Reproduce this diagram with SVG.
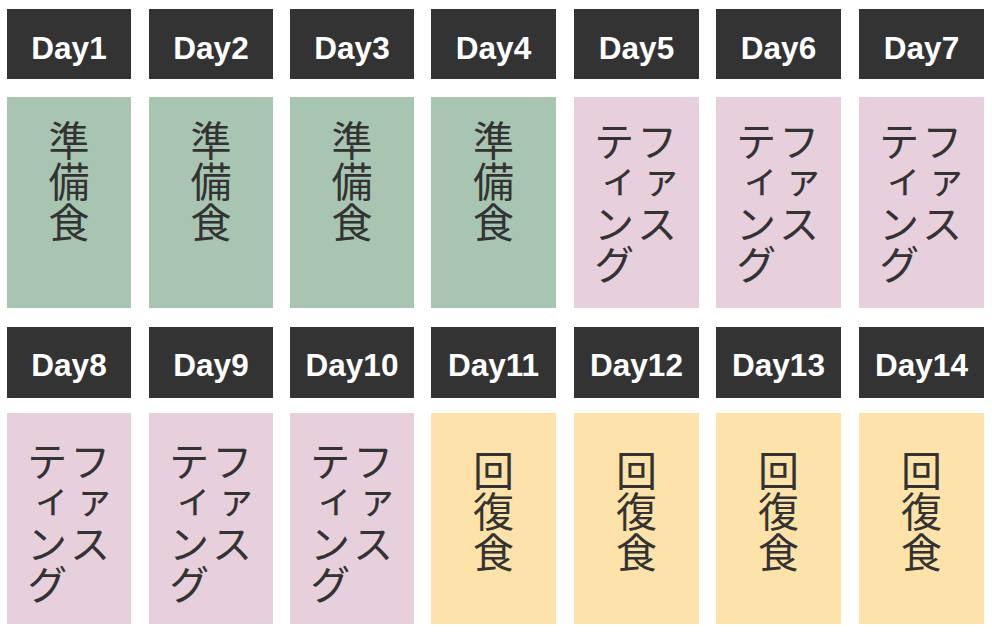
<svg xmlns="http://www.w3.org/2000/svg" width="992" height="632" viewBox="0 0 992 632">
<style>
.hd{fill:#333333}
.ht{font-family:"Liberation Sans",Arial,sans-serif;font-weight:bold;font-size:31.5px;fill:#ffffff;text-anchor:middle}
.g{fill:#a7c5b0}
.p{fill:#e7cfdc}
.y{fill:#fde3a9}
.vt{font-family:"Noto Sans CJK JP",sans-serif;font-size:41px;fill:#333333;writing-mode:vertical-rl;text-anchor:start}
</style>
<rect width="992" height="632" fill="#ffffff"/>
<g id="day1"><rect class="hd" x="7" y="9" width="124" height="70"/><text class="ht" x="69" y="58.5">Day1</text><rect class="g" x="7" y="97" width="124" height="211"/><text class="vt" x="69" y="120">準備食</text></g>
<g id="day2"><rect class="hd" x="149" y="9" width="124" height="70"/><text class="ht" x="211" y="58.5">Day2</text><rect class="g" x="149" y="97" width="124" height="211"/><text class="vt" x="211" y="120">準備食</text></g>
<g id="day3"><rect class="hd" x="290" y="9" width="124" height="70"/><text class="ht" x="352" y="58.5">Day3</text><rect class="g" x="290" y="97" width="124" height="211"/><text class="vt" x="352" y="120">準備食</text></g>
<g id="day4"><rect class="hd" x="431" y="9" width="125" height="70"/><text class="ht" x="493.5" y="58.5">Day4</text><rect class="g" x="431" y="97" width="125" height="211"/><text class="vt" x="493.5" y="120">準備食</text></g>
<g id="day5"><rect class="hd" x="574" y="9" width="125" height="70"/><text class="ht" x="636.5" y="58.5">Day5</text><rect class="p" x="574" y="97" width="125" height="211"/><text class="vt" x="657" y="121">ファス</text><text class="vt" x="614" y="121">ティング</text></g>
<g id="day6"><rect class="hd" x="716" y="9" width="125" height="70"/><text class="ht" x="778.5" y="58.5">Day6</text><rect class="p" x="716" y="97" width="125" height="211"/><text class="vt" x="799" y="121">ファス</text><text class="vt" x="756" y="121">ティング</text></g>
<g id="day7"><rect class="hd" x="859" y="9" width="125" height="70"/><text class="ht" x="921.5" y="58.5">Day7</text><rect class="p" x="859" y="97" width="125" height="211"/><text class="vt" x="942" y="121">ファス</text><text class="vt" x="899" y="121">ティング</text></g>
<g id="day8"><rect class="hd" x="7" y="327" width="124" height="71"/><text class="ht" x="69" y="375.5">Day8</text><rect class="p" x="7" y="413" width="124" height="211"/><text class="vt" x="90" y="441">ファス</text><text class="vt" x="47" y="441">ティング</text></g>
<g id="day9"><rect class="hd" x="149" y="327" width="124" height="71"/><text class="ht" x="211" y="375.5">Day9</text><rect class="p" x="149" y="413" width="124" height="211"/><text class="vt" x="232" y="441">ファス</text><text class="vt" x="189" y="441">ティング</text></g>
<g id="day10"><rect class="hd" x="290" y="327" width="124" height="71"/><text class="ht" x="352" y="375.5">Day10</text><rect class="p" x="290" y="413" width="124" height="211"/><text class="vt" x="373" y="441">ファス</text><text class="vt" x="330" y="441">ティング</text></g>
<g id="day11"><rect class="hd" x="431" y="327" width="125" height="71"/><text class="ht" x="493.5" y="375.5">Day11</text><rect class="y" x="431" y="413" width="125" height="211"/><text class="vt" x="493.5" y="450">回復食</text></g>
<g id="day12"><rect class="hd" x="574" y="327" width="125" height="71"/><text class="ht" x="636.5" y="375.5">Day12</text><rect class="y" x="574" y="413" width="125" height="211"/><text class="vt" x="636.5" y="450">回復食</text></g>
<g id="day13"><rect class="hd" x="716" y="327" width="125" height="71"/><text class="ht" x="778.5" y="375.5">Day13</text><rect class="y" x="716" y="413" width="125" height="211"/><text class="vt" x="778.5" y="450">回復食</text></g>
<g id="day14"><rect class="hd" x="859" y="327" width="125" height="71"/><text class="ht" x="921.5" y="375.5">Day14</text><rect class="y" x="859" y="413" width="125" height="211"/><text class="vt" x="921.5" y="450">回復食</text></g>
<g id="connectors"></g>
</svg>
